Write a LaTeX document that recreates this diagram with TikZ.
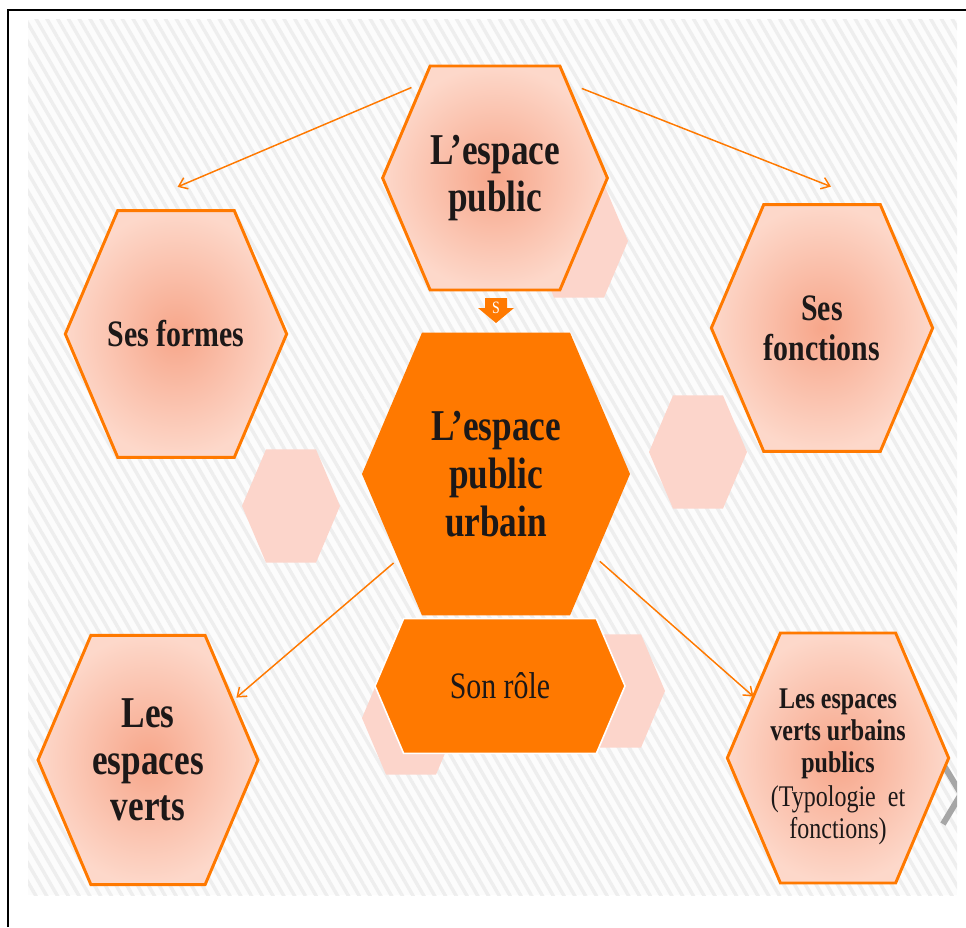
\documentclass[tikz,border=0pt]{standalone}
\usepackage{fontspec}
\setmainfont{Liberation Serif}
\newfontfamily\hexfont[FakeStretch=0.8]{Liberation Serif}
\usetikzlibrary{shapes.symbols,arrows.meta,patterns.meta}

\definecolor{hexorange}{RGB}{255,121,0}
\definecolor{hexlight}{RGB}{253,216,202}
\definecolor{hexmid}{RGB}{247,166,138}
\definecolor{hexpale}{RGB}{252,213,203}
\definecolor{hexink}{RGB}{28,24,24}
\definecolor{stripebg}{RGB}{252,252,252}
\definecolor{stripe}{RGB}{238,238,238}

\begin{document}
\begin{tikzpicture}[x=0.75pt, y=-0.75pt,
    hexa/.style={signal, signal to=east and west, signal pointer angle=134,
      inner sep=0pt, outer sep=0pt, text=hexink, align=center},
    bighex/.style={hexa, draw=hexorange, line width=2.2pt,
      inner color=hexmid, outer color=hexlight},
    palehex/.style={hexa, fill=hexpale, minimum width=73.5pt, minimum height=85pt},
    fullhex/.style={hexa, fill=hexorange},
    link/.style={draw=hexorange, line width=1.1pt, -{Straight Barb[length=6pt,width=9pt]}}]
  \useasboundingbox (0,0) rectangle (966,927);

  % background
  \fill[stripebg] (28,20) rectangle (957,895);
  \fill[pattern={Lines[angle=-60,distance=7pt,line width=2.6pt]}, pattern color=stripe]
    (28,20) rectangle (957,895);
  \draw[line width=1.6pt] (8,927) -- (8,10) -- (966,10);

  % pale hexagons
  \node[palehex] (paletop) at (579,241) {};
  \node[palehex] (paleformes) at (291,506) {};
  \node[palehex] (palefonctions) at (698,452) {};
  \node[palehex] (paleroleleft) at (411,718) {};
  \node[palehex] (paleroleright) at (616,691) {};

  \begin{scope}
    \clip (28,20) rectangle (957,895);
    \draw[gray!70, line width=4.5pt] (943,764) -- (961,794) -- (943,824);
  \end{scope}

  % hexagons
  \node[bighex, minimum width=167pt, minimum height=168pt,
    font=\hexfont\bfseries\fontsize{33}{35}\selectfont] (espace) at (495,178) {L’espace\\public};
  \node[bighex, inner xsep=-9pt, minimum width=166pt, minimum height=185pt,
    font=\hexfont\bfseries\fontsize{28}{30}\selectfont] (formes) at (176,334) {Ses formes};
  \node[bighex, minimum width=166pt, minimum height=185pt,
    font=\hexfont\bfseries\fontsize{28}{30}\selectfont] (fonctions) at (822,328) {Ses\\fonctions};
  \node[fullhex, minimum width=201pt, minimum height=212pt,
    font=\hexfont\bfseries\fontsize{33}{36}\selectfont] (urbain) at (496,474) {L’espace\\public\\urbain};
  \node[fullhex, draw=white, line width=1.2pt, minimum width=187.5pt, minimum height=101pt,
    font=\hexfont\fontsize{28}{30}\selectfont] (role) at (500,686) {Son rôle};
  \node[bighex, minimum width=165pt, minimum height=187pt,
    font=\hexfont\bfseries\fontsize{33}{35}\selectfont] (verts) at (148,760) {Les\\espaces\\verts};
  \node[bighex, inner xsep=-9pt, text height=126pt, minimum width=166pt, minimum height=187.5pt,
    font=\hexfont\fontsize{22.5}{24}\selectfont] (urbains) at (838,758)
    {\bfseries Les espaces\\\bfseries verts urbains\\\bfseries publics\\[2pt](Typologie\ \ et\\fonctions)};

  % little arrow
  \fill[hexorange] (485,298) -- (507,298) -- (507,308) -- (514,308) -- (496,323)
    -- (478,308) -- (485,308) -- cycle;
  \node[text=white, font=\hexfont\fontsize{13}{13}\selectfont] (sdown) at (496,308) {S};

  % links
  \draw[link, shorten <=9.5pt, shorten >=49.5pt] (espace.127) -- (formes.116);
  \draw[link, shorten <=12pt, shorten >=37pt] (espace.53) -- (fonctions.66);
  \draw[link, shorten <=4.5pt, shorten >=3.5pt] (urbain.221) -- (verts.35);
  \draw[link, shorten <=5pt] (urbain.320) -- (urbains.144);
\end{tikzpicture}
\end{document}
